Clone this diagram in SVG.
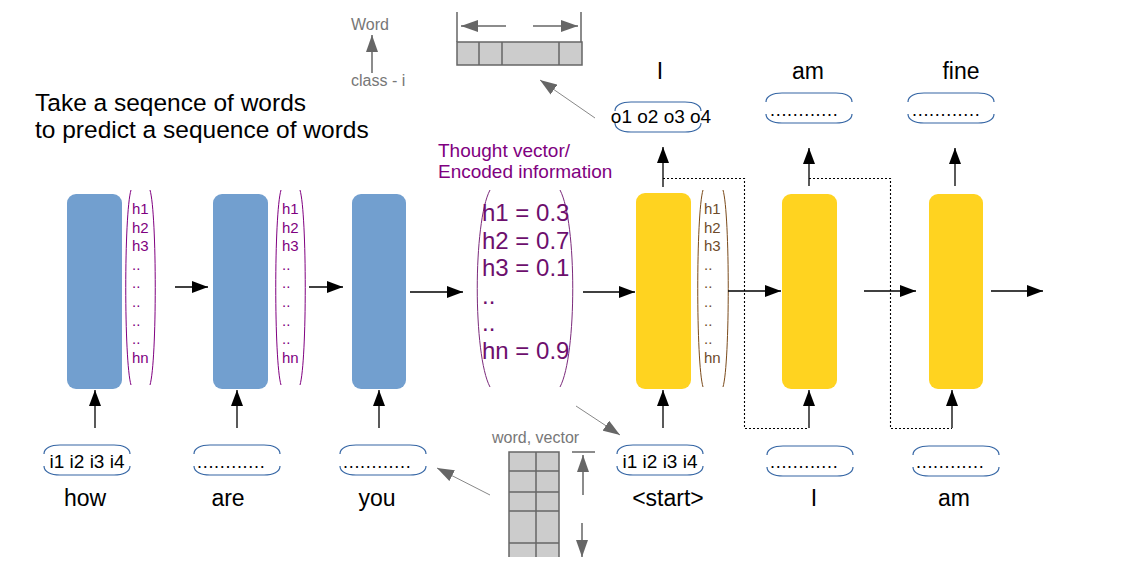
<svg xmlns="http://www.w3.org/2000/svg" width="1134" height="567" viewBox="0 0 1134 567">
<style>
text{font-family:"Liberation Sans",Arial,sans-serif}
.word{font-size:23px;fill:#000;text-anchor:middle}
.title{font-size:24.5px;fill:#000}
.gray{font-size:16px;fill:#777}
.inp{font-size:19px;fill:#000;text-anchor:middle}
.dots{font-size:18px;fill:#000;letter-spacing:0.7px}
.hp{font-size:15px;fill:#800080}
.hb{font-size:15px;fill:#6e4b2a}
.tv{font-size:24px;fill:#6d0f6d}
.tvl{font-size:19px;fill:#800080}
.enc{fill:#729fcf}
.dec{fill:#ffd320}
.cap{fill:none;stroke:#3465a4;stroke-width:1.2}
.pp{fill:none;stroke:#800080;stroke-width:1}
.pb{fill:none;stroke:#7a4a1a;stroke-width:1}
.pt{fill:none;stroke:#7b2a7b;stroke-width:1}
.arr{fill:none;stroke:#000;stroke-width:1.3;marker-end:url(#ah)}
.dot{fill:none;stroke:#000;stroke-width:1.1;stroke-dasharray:2 2}
.garr{fill:none;stroke:#666;stroke-width:1.5;marker-end:url(#gh)}
.tarr{fill:none;stroke:#888;stroke-width:1;marker-end:url(#gh)}
.grid{fill:#ccc;stroke:#666;stroke-width:1.5}
.gl{fill:none;stroke:#666;stroke-width:1.5}
</style>
<defs>
<marker id="ah" markerUnits="userSpaceOnUse" markerWidth="16" markerHeight="12" refX="16" refY="6" orient="auto">
<path d="M0,0 L16,6 L0,12 z" fill="#000"/>
</marker>
<marker id="gh" markerUnits="userSpaceOnUse" markerWidth="17" markerHeight="12" refX="17" refY="6" orient="auto">
<path d="M0,0 L17,6 L0,12 z" fill="#666"/>
</marker>
<g id="capsule">
<path class="cap" d="M0,9 C0,3 7,0 16,0 L70,0 C79,0 86,3 86,9"/>
<path class="cap" d="M0,21 C0,27 7,30 16,30 L70,30 C79,30 86,27 86,21"/>
</g>
</defs>
<rect width="1134" height="567" fill="#fff"/>

<g id="title">
<text class="title" x="35" y="111">Take a seqence of words</text>
<text class="title" x="35" y="138">to predict a sequence of words</text>
</g>

<g id="word-class-legend">
<text class="gray" x="351" y="30">Word</text>
<text class="gray" x="351" y="86">class - i</text>
<path class="garr" d="M372,73 V35"/>
</g>

<g id="output-vector">
<rect class="grid" x="457" y="42" width="125" height="23"/>
<path class="gl" d="M479,42 V65 M502,42 V65 M559,42 V65 M457,12 V42 M581,12 V42"/>
<path class="garr" d="M506,26 H461"/>
<path class="garr" d="M533,26 H578"/>
</g>

<g id="embedding-matrix">
<text class="gray" x="492" y="443">word, vector</text>
<rect x="509" y="452" width="50" height="105" fill="#ccc"/>
<path class="gl" d="M509,557 V452 H559 V557 M536,452 V557 M509,471 H559 M509,492 H559 M509,511 H559 M509,543 H559"/>
<path class="gl" d="M572,452 H595"/>
<path class="garr" d="M583,495 V455"/>
<path class="garr" d="M582,523 V557"/>
</g>

<g id="enc1">
<rect class="enc" x="67" y="194" width="55" height="195" rx="9"/>
<path class="pp" d="M131,190 C124,214 124,361 131,385"/>
<path class="pp" d="M150,190 C157,214 157,361 150,385"/>
<g class="hp">
<text x="132" y="214">h1</text><text x="132" y="232.6">h2</text><text x="132" y="251.2">h3</text>
<text x="132" y="269.8">..</text><text x="132" y="288.4">..</text><text x="132" y="307">..</text>
<text x="132" y="325.6">..</text><text x="132" y="344.2">..</text><text x="132" y="362.8">hn</text>
</g>
</g>

<g id="enc2">
<rect class="enc" x="213" y="194" width="55" height="195" rx="9"/>
<path class="pp" d="M281,190 C274,214 274,361 281,385"/>
<path class="pp" d="M300,190 C307,214 307,361 300,385"/>
<g class="hp">
<text x="282" y="214">h1</text><text x="282" y="232.6">h2</text><text x="282" y="251.2">h3</text>
<text x="282" y="269.8">..</text><text x="282" y="288.4">..</text><text x="282" y="307">..</text>
<text x="282" y="325.6">..</text><text x="282" y="344.2">..</text><text x="282" y="362.8">hn</text>
</g>
</g>

<g id="enc3">
<rect class="enc" x="352" y="194" width="54" height="195" rx="9"/>
</g>

<g id="thought-vector">
<text class="tvl" x="438" y="157">Thought vector/</text>
<text class="tvl" x="438" y="178">Encoded information</text>
<path class="pt" d="M490,190 C473,222 473,355 490,387"/>
<path class="pt" d="M560,190 C577,222 577,355 560,387"/>
<text class="tv" x="482" y="221">h1 = 0.3</text>
<text class="tv" x="482" y="248.6">h2 = 0.7</text>
<text class="tv" x="482" y="276.2">h3 = 0.1</text>
<text class="tv" x="482" y="303.8">..</text>
<text class="tv" x="482" y="331.4">..</text>
<text class="tv" x="482" y="359">hn = 0.9</text>
</g>

<g id="dec1">
<rect class="dec" x="636" y="193" width="55" height="196" rx="9"/>
<path class="pb" d="M703,190 C696,214 696,363 703,387"/>
<path class="pb" d="M723,190 C730,214 730,363 723,387"/>
<g class="hb">
<text x="704" y="214">h1</text><text x="704" y="232.6">h2</text><text x="704" y="251.2">h3</text>
<text x="704" y="269.8">..</text><text x="704" y="288.4">..</text><text x="704" y="307">..</text>
<text x="704" y="325.6">..</text><text x="704" y="344.2">..</text><text x="704" y="362.8">hn</text>
</g>
</g>

<g id="dec2">
<rect class="dec" x="782" y="194" width="55" height="195" rx="9"/>
</g>

<g id="dec3">
<rect class="dec" x="929" y="194" width="54" height="195" rx="9"/>
</g>

<g id="in-how">
<use href="#capsule" x="44" y="445"/>
<text class="inp" x="87" y="468">i1 i2 i3 i4</text>
<text class="word" x="85" y="506">how</text>
</g>
<g id="in-are">
<use href="#capsule" x="194" y="445"/>
<text class="dots" x="197" y="468">............</text>
<text class="word" x="228" y="506">are</text>
</g>
<g id="in-you">
<use href="#capsule" x="340" y="445"/>
<text class="dots" x="343" y="468">............</text>
<text class="word" x="377" y="506">you</text>
</g>
<g id="in-start">
<use href="#capsule" x="617" y="445"/>
<text class="inp" x="660" y="468">i1 i2 i3 i4</text>
<text class="word" x="668" y="506">&lt;start&gt;</text>
</g>
<g id="in-I">
<use href="#capsule" x="767" y="446"/>
<text class="dots" x="770" y="468">............</text>
<text class="word" x="814" y="506">I</text>
</g>
<g id="in-am">
<use href="#capsule" x="913" y="446"/>
<text class="dots" x="916" y="468">............</text>
<text class="word" x="954" y="506">am</text>
</g>

<g id="out-I">
<use href="#capsule" x="615" y="102"/>
<text class="inp" x="661" y="123">o1 o2 o3 o4</text>
<text class="word" x="660" y="79">I</text>
</g>
<g id="out-am">
<use href="#capsule" x="766" y="93"/>
<text class="dots" x="770" y="116">............</text>
<text class="word" x="808" y="79">am</text>
</g>
<g id="out-fine">
<use href="#capsule" x="908" y="93"/>
<text class="dots" x="912" y="116">............</text>
<text class="word" x="961" y="79">fine</text>
</g>

<g id="connectors">
<path class="arr" d="M175,287 H208"/>
<path class="arr" d="M309,287 H343"/>
<path class="arr" d="M410,292 H463"/>
<path class="arr" d="M583,292 H635"/>
<path class="arr" d="M728,291 H781"/>
<path class="arr" d="M864,291 H916"/>
<path class="arr" d="M991,291 H1043"/>
<path class="arr" d="M95,428 V390"/>
<path class="arr" d="M237,428 V390"/>
<path class="arr" d="M379,428 V390"/>
<path class="arr" d="M663,428 V390"/>
<path class="arr" d="M809,428 V390"/>
<path class="arr" d="M952,428 V390"/>
<path class="arr" d="M663,187 V147"/>
<path class="arr" d="M809,186 V148"/>
<path class="arr" d="M955,186 V148"/>
<path class="dot" d="M663,178.5 H744.5 V428.5 H809"/>
<path class="dot" d="M809,178.5 H890.5 V428.5 H952"/>
<path class="tarr" d="M595,118 L540,80"/>
<path class="tarr" d="M490,495 L437,468"/>
<path class="tarr" d="M576,406 L620,435"/>
</g>
</svg>
